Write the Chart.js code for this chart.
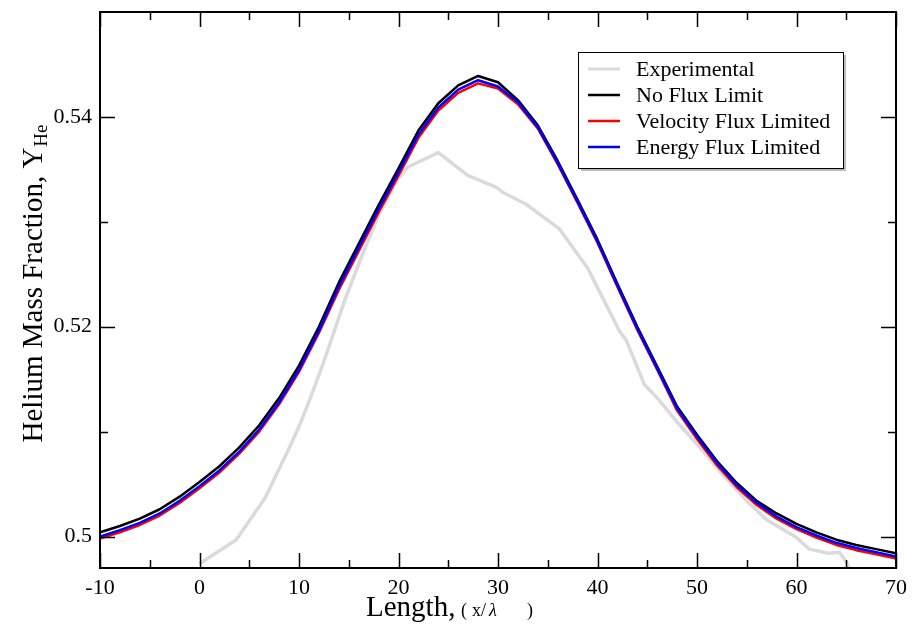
<!DOCTYPE html>
<html>
<head>
<meta charset="utf-8">
<script src="https://cdn.jsdelivr.net/npm/chart.js@4.4.0/dist/chart.umd.min.js"></script>
<style>
  body { margin: 0; background: #fff; }
</style>
</head>
<body>
<canvas id="heChart" width="913" height="633"></canvas>
<script>
// model grid (x / lambda)
const modelX = [-10, -8, -6, -4, -2, 0, 2, 4, 6, 8, 10, 12, 14, 16, 18, 20, 22, 24, 26, 28, 30,
                32, 34, 36, 38, 40, 42, 44, 46, 48, 50, 52, 54, 56, 58, 60, 62, 64, 66, 68, 70];

const noFlux = [0.5004, 0.5010, 0.5017, 0.5026, 0.5038, 0.5052, 0.5067, 0.5085, 0.5106, 0.5132, 0.5163,
                0.5200, 0.5242, 0.5279, 0.5316, 0.5351, 0.5387, 0.5413, 0.5430, 0.5439, 0.5433,
                0.5416, 0.5392, 0.5358, 0.5321, 0.5283, 0.5241, 0.5200, 0.5162, 0.5124, 0.5097,
                0.5072, 0.5051, 0.5034, 0.5022, 0.5012, 0.5004, 0.4997, 0.4992, 0.4988, 0.4984];

const velocityLimited = [0.4998, 0.5004, 0.5011, 0.5020, 0.5032, 0.5046, 0.5061, 0.5079, 0.5100, 0.5126, 0.5157,
                0.5194, 0.5235, 0.5272, 0.5309, 0.5344, 0.5380, 0.5406, 0.5423, 0.5432, 0.5427,
                0.5412, 0.5389, 0.5355, 0.5318, 0.5280, 0.5238, 0.5197, 0.5159, 0.5120, 0.5093,
                0.5068, 0.5047, 0.5030, 0.5017, 0.5007, 0.4999, 0.4992, 0.4987, 0.4983, 0.4979];

const energyLimited = [0.5000, 0.5006, 0.5013, 0.5022, 0.5034, 0.5048, 0.5063, 0.5081, 0.5102, 0.5128, 0.5159,
                0.5196, 0.5238, 0.5275, 0.5312, 0.5347, 0.5383, 0.5409, 0.5426, 0.5435, 0.5429,
                0.5414, 0.5390, 0.5356, 0.5319, 0.5281, 0.5239, 0.5198, 0.5160, 0.5122, 0.5095,
                0.5070, 0.5049, 0.5032, 0.5019, 0.5009, 0.5001, 0.4994, 0.4989, 0.4985, 0.4981];

// experimental trace
const expX = [0, 3.7, 6.6, 8.9, 10.1, 11.1, 12.4, 14.7, 16.8, 18.1, 19.8, 20.9, 24.0, 27.0, 29.8, 30.5,
              32.8, 36.2, 39.0, 40.5, 42.2, 42.9, 44.7, 46.2, 48.2, 50.2, 52.5, 55.0, 57.0, 60.0,
              61.3, 63.2, 64.3, 65.0, 65.5];
const expY = [0.4974, 0.4997, 0.5037, 0.5082, 0.5107, 0.5131, 0.5164, 0.5228, 0.5279, 0.5308, 0.5339,
              0.5352, 0.5366, 0.5344, 0.5333, 0.5328, 0.5317, 0.5293, 0.5256, 0.5228, 0.5196,
              0.5187, 0.5145, 0.5130, 0.5107, 0.5086, 0.5060, 0.5034, 0.5016, 0.4999, 0.4988,
              0.4984, 0.4985, 0.4976, 0.4966];

const xMajor = [-10, 0, 10, 20, 30, 40, 50, 60, 70];
const xMinor = [-5, 5, 15, 25, 35, 45, 55, 65];
const yMajor = [0.50, 0.52, 0.54];
const yMinor = [0.51, 0.53];
const yLabels = ['0.5', '0.52', '0.54'];

const serif = '"Liberation Serif", "DejaVu Serif", serif';

const toPts = (xs, ys) => xs.map((x, i) => ({ x: x, y: ys[i] }));

const framePlugin = {
    id: 'frame',
    afterDatasetsDraw(chart) {
        const ctx = chart.ctx;
        const a = chart.chartArea;
        const xs = chart.scales.x, ys = chart.scales.y;
        ctx.save();
        ctx.strokeStyle = '#000';
        ctx.lineWidth = 1.5;
        ctx.beginPath();
        xMajor.concat(xMinor).forEach(v => {
            const len = xMajor.includes(v) ? 15 : 8;
            const p = Math.round(xs.getPixelForValue(v)) + 0.5;
            ctx.moveTo(p, a.bottom); ctx.lineTo(p, a.bottom - len);
            ctx.moveTo(p, a.top); ctx.lineTo(p, a.top + len);
        });
        yMajor.concat(yMinor).forEach(v => {
            const len = yMajor.includes(v) ? 15 : 8;
            const p = Math.round(ys.getPixelForValue(v)) + 0.5;
            ctx.moveTo(a.left, p); ctx.lineTo(a.left + len, p);
            ctx.moveTo(a.right, p); ctx.lineTo(a.right - len, p);
        });
        ctx.stroke();
        ctx.lineWidth = 2;
        ctx.strokeRect(a.left, a.top, a.right - a.left, a.bottom - a.top);
        ctx.restore();
    },
    afterDraw(chart) {
        const ctx = chart.ctx;
        ctx.save();
        // legend box
        const lx = 578, ly = 52, lw = 265, lh = 116;
        ctx.fillStyle = '#bbb';
        ctx.fillRect(lx + 3, ly + 3, lw, lh);
        ctx.fillStyle = '#fff';
        ctx.fillRect(lx, ly, lw, lh);
        ctx.strokeStyle = '#000';
        ctx.lineWidth = 1;
        ctx.strokeRect(lx + 0.5, ly + 0.5, lw, lh);
        ctx.font = '22px ' + serif;
        ctx.textBaseline = 'middle';
        chart.data.datasets.forEach((ds, i) => {
            const y = 69 + i * 26;
            ctx.strokeStyle = ds.borderColor;
            ctx.lineWidth = i === 0 ? 3 : 2.5;
            ctx.beginPath();
            ctx.moveTo(588, y); ctx.lineTo(620, y);
            ctx.stroke();
            ctx.fillStyle = '#000';
            ctx.fillText(ds.label, 636, y + 1);
        });

        // axis titles
        ctx.fillStyle = '#000';
        ctx.textBaseline = 'alphabetic';
        ctx.font = '29px ' + serif;
        ctx.fillText('Length,', 366, 616);
        ctx.font = '18px ' + serif;
        ctx.fillText('(', 461, 616);
        ctx.fillText('x/', 472, 616);
        ctx.font = 'italic 18px ' + serif;
        ctx.fillText('\u03bb', 489, 616);
        ctx.font = '18px ' + serif;
        ctx.fillText(')', 527, 616);

        ctx.translate(42, 284);
        ctx.rotate(-Math.PI / 2);
        ctx.font = '29px ' + serif;
        const yt = 'Helium Mass Fraction, Y';
        const wm = ctx.measureText(yt).width;
        ctx.font = '19px ' + serif;
        const ws = ctx.measureText('He').width;
        const start = -(wm + ws) / 2;
        ctx.font = '29px ' + serif;
        ctx.fillText(yt, start, 0);
        ctx.font = '19px ' + serif;
        ctx.fillText('He', start + wm + 1, 5);
        ctx.restore();
    }
};

new Chart(document.getElementById('heChart').getContext('2d'), {
    type: 'line',
    data: {
        datasets: [
            {
                label: 'Experimental',
                data: toPts(expX, expY),
                borderColor: '#dadada',
                borderWidth: 3.5,
                order: 4
            },
            {
                label: 'No Flux Limit',
                data: toPts(modelX, noFlux),
                borderColor: '#000000',
                borderWidth: 2.5,
                order: 3
            },
            {
                label: 'Velocity Flux Limited',
                data: toPts(modelX, velocityLimited),
                borderColor: '#ff0000',
                borderWidth: 2.5,
                order: 2
            },
            {
                label: 'Energy Flux Limited',
                data: toPts(modelX, energyLimited),
                borderColor: '#0000ff',
                borderWidth: 2.5,
                order: 1
            }
        ]
    },
    options: {
        responsive: false,
        animation: false,
        layout: { padding: { left: 0, right: 17, top: 12, bottom: 0 } },
        elements: {
            point: { radius: 0 },
            line: { tension: 0, fill: false, borderJoinStyle: 'round' }
        },
        plugins: {
            legend: { display: false },
            tooltip: { enabled: false }
        },
        scales: {
            x: {
                type: 'linear',
                min: -10,
                max: 70,
                afterBuildTicks: s => { s.ticks = xMajor.map(v => ({ value: v })); },
                afterFit: s => { s.height = 65; s.paddingLeft = 0; s.paddingRight = 0; },
                grid: { display: false, drawTicks: false },
                border: { display: false },
                ticks: {
                    padding: 7,
                    color: '#000',
                    font: { family: serif, size: 22 },
                    maxRotation: 0,
                    callback: v => String(v)
                }
            },
            y: {
                type: 'linear',
                min: 0.497,
                max: 0.55,
                afterBuildTicks: s => { s.ticks = yMajor.map(v => ({ value: v })); },
                afterFit: s => { s.width = 100; s.paddingTop = 0; s.paddingBottom = 0; },
                grid: { display: false, drawTicks: false },
                border: { display: false },
                ticks: {
                    padding: 8,
                    color: '#000',
                    font: { family: serif, size: 22 },
                    callback: v => yLabels[yMajor.indexOf(v)] ?? ''
                }
            }
        }
    },
    plugins: [framePlugin]
});
</script>
</body>
</html>
